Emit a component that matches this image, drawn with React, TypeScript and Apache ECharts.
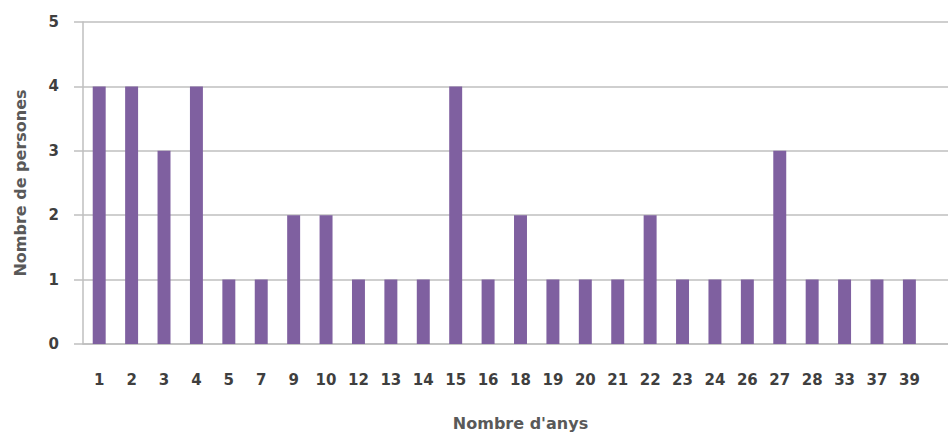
import React, { useEffect, useRef } from "react";
import * as echarts from "echarts";

const categories = ["1", "2", "3", "4", "5", "7", "9", "10", "12", "13", "14", "15", "16", "18", "19", "20", "21", "22", "23", "24", "26", "27", "28", "33", "37", "39"];
const values = [4, 4, 3, 4, 1, 1, 2, 2, 1, 1, 1, 4, 1, 2, 1, 1, 1, 2, 1, 1, 1, 3, 1, 1, 1, 1];
const yTicks = [0, 1, 2, 3, 4, 5];

export default function App() {
  const ref = useRef<HTMLDivElement>(null);
  useEffect(() => {
    if (!ref.current) return;
    const chart = echarts.init(ref.current, null, { renderer: "svg" });
    const font = "'DejaVu Sans', sans-serif";
    chart.setOption({
      animation: false,
      grid: { left: 83, top: 22, bottom: 92, right: 2, containLabel: false },
      xAxis: {
        type: "category",
        data: categories,
        max: categories.length,
        name: "Nombre d'anys",
        nameLocation: "middle",
        nameGap: 71,
        nameTextStyle: { color: "#595959", fontWeight: "bold", fontSize: 16, fontFamily: font },
        axisLine: { show: true, lineStyle: { color: "#bfbfbf", width: 1.5 } },
        axisTick: { show: false },
        axisLabel: { color: "#3f3f3f", fontWeight: "bold", fontSize: 15, fontFamily: font, margin: 28, interval: 0 },
      },
      yAxis: {
        type: "value",
        min: yTicks[0],
        max: yTicks[yTicks.length - 1],
        interval: 1,
        name: "Nombre de persones",
        nameLocation: "middle",
        nameGap: 55,
        nameRotate: 90,
        nameTextStyle: { color: "#595959", fontWeight: "bold", fontSize: 16, fontFamily: font },
        axisLine: { show: true, lineStyle: { color: "#bfbfbf", width: 1.5 } },
        axisTick: { show: true, length: 9, lineStyle: { color: "#bfbfbf", width: 1.5 } },
        splitLine: { show: true, lineStyle: { color: "#bfbfbf", width: 1.5 } },
        axisLabel: { color: "#3f3f3f", fontWeight: "bold", fontSize: 15, fontFamily: font, margin: 24 },
      },
      series: [
        {
          type: "bar",
          data: values,
          barWidth: "40%",
          itemStyle: { color: "#7f60a0" },
        },
      ],
    });
    return () => chart.dispose();
  }, []);
  return (
    <div style={{ position: "absolute", left: 0, top: 0, width: 948, height: 436, overflow: "hidden" }}>
      <div ref={ref} style={{ width: 960, height: 436 }} />
    </div>
  );
}
